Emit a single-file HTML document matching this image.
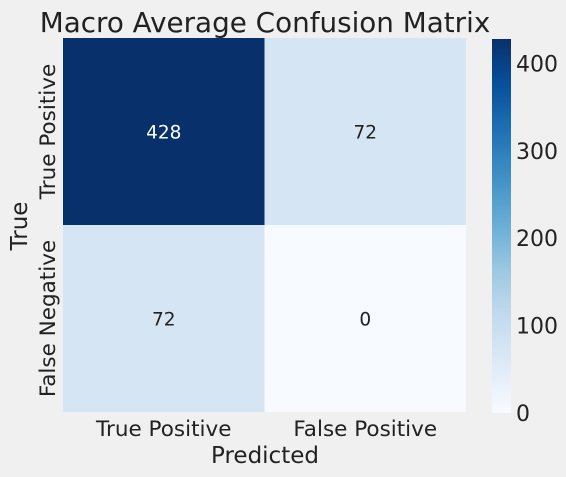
<!DOCTYPE html>
<html><head><meta charset="utf-8"><style>
body{margin:0;background:#f0f0f0;}
svg{display:block;font-family:"DejaVu Sans","Liberation Sans",sans-serif;}
</style></head><body>
<svg id="chart" width="566" height="477" viewBox="0 0 566 477">
<rect width="566" height="477" fill="#f0f0f0"/>
<defs><linearGradient id="blues" x1="0" y1="1" x2="0" y2="0">
<stop offset="0" stop-color="#f7fbff"/><stop offset="0.125" stop-color="#deebf7"/>
<stop offset="0.25" stop-color="#c6dbef"/><stop offset="0.375" stop-color="#9ecae1"/>
<stop offset="0.5" stop-color="#6baed6"/><stop offset="0.625" stop-color="#4292c6"/>
<stop offset="0.75" stop-color="#2171b5"/><stop offset="0.875" stop-color="#08519c"/>
<stop offset="1" stop-color="#08306b"/></linearGradient></defs>
<text x="265" y="32" font-size="27.8" text-anchor="middle" fill="#222">Macro Average Confusion Matrix</text>
<g id="cells"></g>
<g id="cbar"></g>
<text x="265" y="463" font-size="23" text-anchor="middle" fill="#222">Predicted</text>
<text x="0" y="0" font-size="23" text-anchor="middle" fill="#222" transform="translate(27,226) rotate(-90)">True</text>
</svg>
<script>
const xLabels=["True Positive","False Positive"];
const yLabels=["True Positive","False Negative"];
const values=[[428,72],[72,0]];
const cbarTicks=[0,100,200,300,400];
const NS="http://www.w3.org/2000/svg";
const L=63,T=38,W=403,H=374,vmin=0,vmax=428;
const stops=[[0.0,[247,251,255]],[0.125,[222,235,247]],[0.25,[198,219,239]],[0.375,[158,202,225]],[0.5,[107,174,214]],[0.625,[66,146,198]],[0.75,[33,113,181]],[0.875,[8,81,156]],[1,[8,48,107]]];
function color(v){let t=(v-vmin)/(vmax-vmin);t=Math.max(0,Math.min(1,t));
for(let i=1;i<stops.length;i++){if(t<=stops[i][0]){const a=stops[i-1],b=stops[i],f=(t-a[0])/(b[0]-a[0]);
return "rgb("+a[1].map((c,k)=>Math.round(c+(b[1][k]-c)*f)).join(",")+")";}}return "rgb(8,48,107)";}
function mk(tag,attrs,parent){const e=document.createElementNS(NS,tag);for(const k in attrs)e.setAttribute(k,attrs[k]);parent.appendChild(e);return e;}
const g=document.getElementById("cells");
const nr=values.length,nc=values[0].length,cw=W/nc,ch=H/nr;
values.forEach((row,r)=>row.forEach((v,c)=>{
 const rect=mk("rect",{x:L+c*cw,y:T+r*ch,width:cw,height:ch,fill:color(v)},g);
 
 
 const t=mk("text",{x:L+c*cw+cw/2,y:T+r*ch+ch/2+7,"font-size":18.5,"text-anchor":"middle",fill:(v-vmin)/(vmax-vmin)>0.5?"#fff":"#222"},g);
 t.textContent=v;
 
 
}));
xLabels.forEach((s,c)=>{const t=mk("text",{x:L+c*cw+cw/2,y:436,"font-size":21.5,"text-anchor":"middle",fill:"#222"},g);t.textContent=s;
 
 });
yLabels.forEach((s,r)=>{const t=mk("text",{x:0,y:0,"font-size":21.5,"text-anchor":"middle",fill:"#222",transform:"translate(55,"+(T+r*ch+ch/2)+") rotate(-90)"},g);t.textContent=s;
 
 });
const cb=document.getElementById("cbar");
const CX=492,CW=19,CT=39,CB=413;
const bar=mk("rect",{x:CX,y:CT,width:CW,height:CB-CT,fill:"url(#blues)"},cb);


cbarTicks.forEach(v=>{const y=CB-(v-vmin)/(vmax-vmin)*(CB-CT);
 const t=mk("text",{x:516,y:y+8,"font-size":22,fill:"#222"},cb);t.textContent=v;
 
 });
</script>
</body></html>
